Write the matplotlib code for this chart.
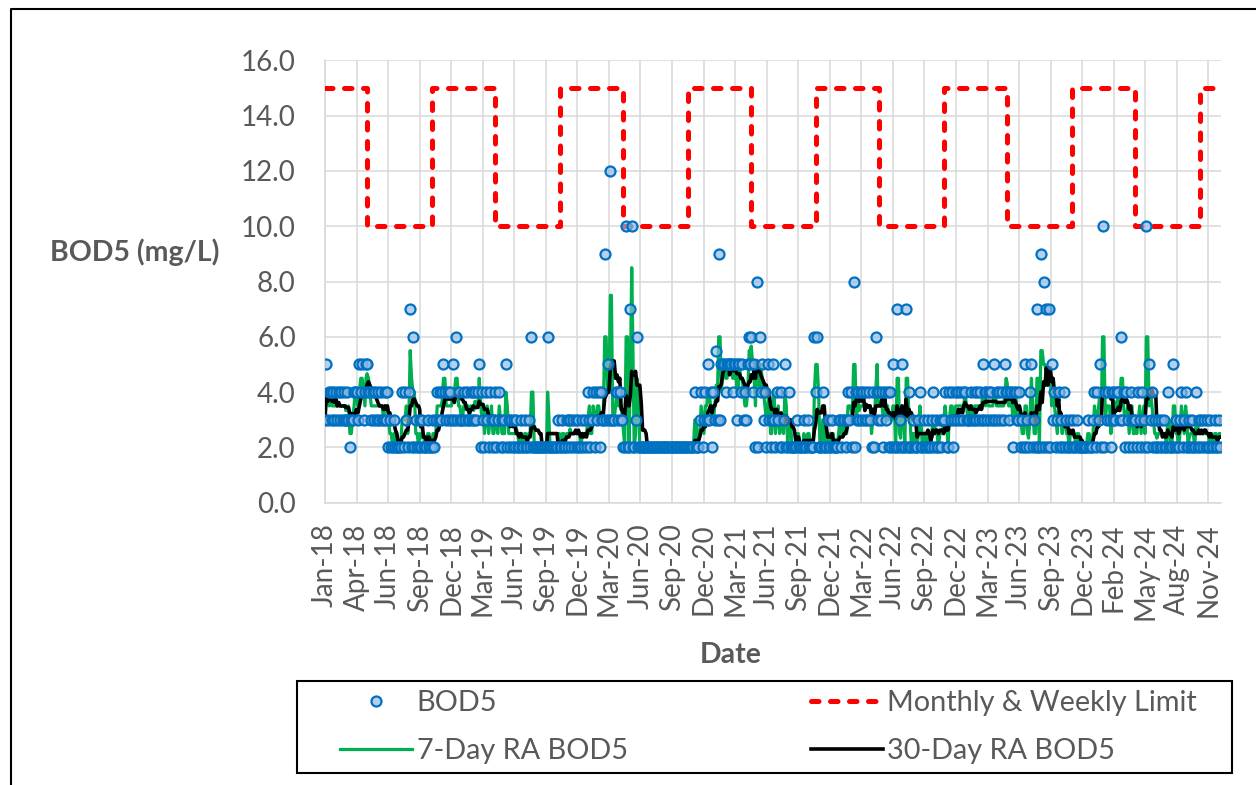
import numpy as np
import pandas as pd
import matplotlib
matplotlib.use("Agg")
import matplotlib.pyplot as plt
import matplotlib.dates as mdates
from matplotlib.lines import Line2D
from matplotlib.patches import Rectangle

plt.rcParams['font.family'] = ['Lato', 'DejaVu Sans']

# ---------------- data ----------------
# grab-sample days within each month
sample_days = [1, 5, 9, 13, 17, 21, 25, 28]

# BOD5 (mg/L), one row per month (Jan..Dec), one value per sample day
bod5_2018 = [
    [3, 5, 3, 4, 4, 3, 4, 3],
    [4, 3, 4, 3, 4, 3, 4, 3],
    [3, 4, 3, 2, 3, 3, 4, 4],
    [4, 3, 5, 4, 5, 3, 4, 5],
    [5, 4, 4, 3, 4, 3, 4, 3],
    [4, 3, 4, 3, 3, 4, 3, 4],
    [2, 3, 2, 2, 3, 2, 2, 2],
    [2, 2, 4, 2, 4, 3, 2, 4],
    [7, 2, 6, 2, 3, 2, 2, 3],
    [2, 3, 2, 2, 2, 3, 2, 2],
    [2, 3, 2, 3, 4, 3, 4, 3],
    [4, 5, 4, 3, 4, 3, 4, 3],
]
bod5_2019 = [
    [5, 3, 6, 3, 4, 3, 3, 3],
    [4, 3, 4, 3, 3, 4, 3, 4],
    [3, 4, 3, 4, 5, 2, 4, 3],
    [2, 4, 3, 2, 4, 3, 2, 3],
    [4, 2, 3, 4, 2, 3, 2, 3],
    [5, 2, 3, 2, 3, 2, 3, 2],
    [3, 2, 2, 3, 2, 2, 3, 2],
    [2, 3, 2, 6, 2, 2, 2, 2],
    [2, 2, 2, 2, 2, 2, 2, 6],
    [2, 2, 2, 2, 2, 2, 2, 3],
    [2, 2, 3, 2, 2, 3, 2, 3],
    [3, 2, 3, 2, 3, 2, 3, 2],
]
bod5_2020 = [
    [2, 3, 2, 3, 2, 4, 3, 2],
    [3, 4, 2, 4, 3, 4, 2, 4],
    [3, 3, 9, 3, 5, 3, 12, 3],
    [3, 3, 4, 4, 3, 4, 3, 3],
    [2, 2, 10, 2, 2, 7, 10, 2],
    [2, 3, 6, 2, 2, 2, 2, 2],
    [2, 2, 2, 2, 2, 2, 2, 2],
    [2, 2, 2, 2, 2, 2, 2, 2],
    [2, 2, 2, 2, 2, 2, 2, 2],
    [2, 2, 2, 2, 2, 2, 2, 2],
    [2, 2, 2, 2, 2, 4, 2, 2],
    [2, 3, 4, 2, 3, 4, 3, 5],
]
bod5_2021 = [
    [3, 4, 2, 4, 3, 5.5, 3, 9],
    [3, 5, 5, 5, 4, 5, 5, 5],
    [5, 5, 4, 5, 5, 3, 5, 5],
    [4, 5, 3, 4, 3, 5, 6, 5],
    [6, 4, 5, 2, 8, 2, 6, 4],
    [5, 3, 4, 2, 5, 3, 2, 3],
    [5, 3, 2, 4, 3, 2, 4, 2],
    [3, 5, 2, 2, 4, 2, 2, 2],
    [2, 2, 3, 2, 2, 2, 2, 3],
    [2, 2, 3, 2, 2, 2, 2, 6],
    [4, 6, 2, 2, 2, 4, 2, 2],
    [2, 3, 2, 2, 3, 2, 2, 2],
]
bod5_2022 = [
    [2, 3, 3, 2, 3, 3, 2, 3],
    [4, 3, 4, 2, 8, 2, 4, 3],
    [4, 3, 4, 3, 4, 3, 4, 3],
    [4, 3, 2, 4, 2, 6, 4, 3],
    [4, 3, 4, 2, 4, 3, 4, 2],
    [4, 2, 5, 2, 2, 7, 2, 3],
    [2, 5, 2, 2, 7, 2, 4, 2],
    [2, 3, 2, 2, 2, 3, 4, 2],
    [2, 3, 2, 2, 3, 2, 2, 3],
    [4, 2, 3, 2, 2, 3, 2, 3],
    [3, 4, 2, 2, 4, 3, 4, 2],
    [3, 4, 3, 4, 3, 4, 3, 4],
]
bod5_2023 = [
    [4, 3, 3, 3, 4, 3, 3, 4],
    [3, 4, 3, 4, 3, 5, 3, 4],
    [4, 3, 4, 3, 4, 3, 5, 3],
    [4, 3, 4, 3, 4, 3, 5, 4],
    [4, 3, 4, 4, 2, 4, 4, 3],
    [3, 4, 2, 3, 2, 5, 2, 3],
    [2, 4, 5, 2, 3, 2, 7, 2],
    [2, 9, 2, 8, 2, 7, 2, 7],
    [2, 5, 3, 4, 2, 3, 4, 2],
    [3, 2, 4, 2, 3, 2, 2, 3],
    [2, 3, 2, 2, 3, 2, 2, 2],
    [2, 2, 2, 2, 3, 2, 2, 2],
]
bod5_2024 = [
    [3, 4, 2, 4, 3, 5, 2, 10],
    [2, 4, 3, 4, 3, 2, 4, 3],
    [4, 3, 4, 4, 3, 6, 3, 4],
    [2, 4, 3, 2, 4, 3, 2, 3],
    [3, 2, 4, 3, 2, 4, 3, 2],
    [10, 2, 5, 3, 4, 2, 3, 2],
    [2, 3, 2, 3, 2, 3, 2, 2],
    [4, 2, 2, 2, 5, 2, 3, 2],
    [2, 3, 4, 2, 3, 4, 2, 2],
    [3, 2, 3, 2, 2, 4, 2, 3],
    [2, 3, 2, 3, 2, 3, 2, 2],
    [3, 2, 2, 3, 2, 2, 3, 2],
]
bod5_by_year = {2018: bod5_2018, 2019: bod5_2019, 2020: bod5_2020, 2021: bod5_2021,
                2022: bod5_2022, 2023: bod5_2023, 2024: bod5_2024}

# permit limit (mg/L): change dates and values
limit_dates = ['2018-01-01', '2018-05-01', '2018-11-01', '2019-05-01', '2019-11-01',
               '2020-05-01', '2020-11-01', '2021-05-01', '2021-11-01', '2022-05-01',
               '2022-11-01', '2023-05-01', '2023-11-01', '2024-05-01', '2024-11-01',
               '2024-12-31']
limit_values = [15, 10, 15, 10, 15, 10, 15, 10, 15, 10, 15, 10, 15, 10, 15, 15]

x_start, x_end = '2018-01-01', '2024-12-31'
y_ticks = [0, 2, 4, 6, 8, 10, 12, 14, 16]

# ---------------- build series ----------------
dates, values = [], []
for yr, rows in bod5_by_year.items():
    for m, row in enumerate(rows):
        for d, v in zip(sample_days, row):
            dates.append(pd.Timestamp(yr, m + 1, d))
            values.append(v)
bod = pd.Series(values, index=pd.DatetimeIndex(dates)).sort_index()
ra7 = bod.rolling('7D').mean()
ra30 = bod.rolling('30D').mean()

# ---------------- figure ----------------
W, H = 1256, 785
fig = plt.figure(figsize=(W / 100, H / 100), dpi=100)
ax = fig.add_axes([325 / W, 1 - 502.7 / H, 896 / W, 442.4 / H])

txt = '#595959'
grid_c = '#D9D9D9'

lim_line, = ax.plot(pd.to_datetime(limit_dates), limit_values, drawstyle='steps-post',
                    color='#FF0000', lw=3.6, ls=(0, (1.5, 2.3)), dash_capstyle='round',
                    solid_capstyle='round', zorder=3, label='Monthly & Weekly Limit')
ra7_line, = ax.plot(ra7.index, ra7.values, color='#00B050', lw=2.3, zorder=3,
                    label='7-Day RA BOD5')
ra30_line, = ax.plot(ra30.index, ra30.values, color='black', lw=2.6, zorder=3,
                     label='30-Day RA BOD5')
bod_line, = ax.plot(bod.index, bod.values, ls='none', marker='o', ms=7.2,
                    mfc=(0.55, 0.72, 0.90, 0.65), mec='#0070C0', mew=1.6, zorder=4,
                    label='BOD5')

ax.set_xlim(pd.Timestamp(x_start), pd.Timestamp(x_end))
ax.set_ylim(0, 16)
ax.set_yticks(y_ticks)
ax.yaxis.set_major_formatter(matplotlib.ticker.FormatStrFormatter('%.1f'))
xt = pd.date_range(x_start, x_end, freq='90D')
ax.set_xticks(xt)
ax.xaxis.set_major_formatter(mdates.DateFormatter('%b-%y'))

ax.grid(True, color=grid_c, lw=1.1)
ax.set_axisbelow(True)
for s in ['top', 'right']:
    ax.spines[s].set_visible(False)
for s in ['left', 'bottom']:
    ax.spines[s].set_color(grid_c)
    ax.spines[s].set_linewidth(1.1)
ax.tick_params(axis='both', length=0, labelsize=20, labelcolor=txt)
ax.tick_params(axis='y', pad=21)
ax.tick_params(axis='x', pad=15, labelrotation=90)

fig.text(50 / W, 1 - 252 / H, 'BOD5 (mg/L)', fontsize=20.5, fontweight='bold',
         color=txt, ha='left', va='center')
fig.text(731 / W, 1 - 655 / H, 'Date', fontsize=20.5, fontweight='bold',
         color=txt, ha='center', va='center')

handles = [bod_line, ra7_line, lim_line, ra30_line]
leg = fig.legend(handles, [h.get_label() for h in handles], loc='center',
                 bbox_to_anchor=(340 / W, 1 - 773 / H, (1197 - 340) / W, 92 / H),
                 mode='expand', ncol=2, frameon=False, borderpad=0, borderaxespad=0,
                 handlelength=2.5, handletextpad=0.15, labelspacing=0.78,
                 fontsize=20.8, labelcolor=txt, numpoints=1)

fig.add_artist(Rectangle((297 / W, 1 - 773 / H), 935 / W, 92 / H,
                         transform=fig.transFigure, fill=False, ec='black', lw=1.5))
fig.add_artist(Line2D([11 / W, 11 / W, 1], [0, 1 - 9 / H, 1 - 9 / H],
                      transform=fig.transFigure, color='black', lw=1.5))

fig.savefig('out.png', dpi=100, facecolor='white')
